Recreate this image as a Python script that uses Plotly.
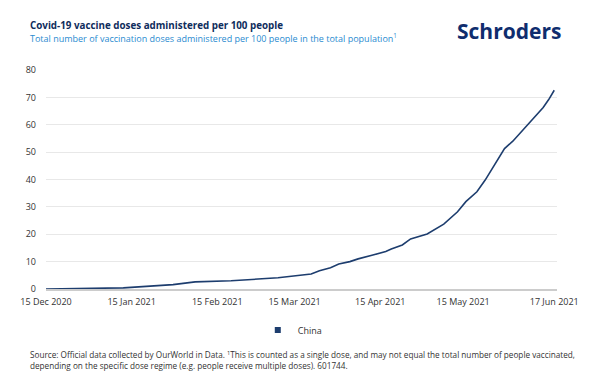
import plotly.graph_objects as go

dates = ["2020-12-15", "2021-01-02", "2021-01-12", "2021-01-30", "2021-02-07", "2021-02-20",
         "2021-03-09", "2021-03-21", "2021-03-24", "2021-03-28", "2021-03-31", "2021-04-04",
         "2021-04-07", "2021-04-12", "2021-04-17", "2021-04-19", "2021-04-23", "2021-04-26",
         "2021-05-02", "2021-05-08", "2021-05-13", "2021-05-16", "2021-05-20", "2021-05-23",
         "2021-05-26", "2021-05-30", "2021-06-02", "2021-06-05", "2021-06-07", "2021-06-10",
         "2021-06-13", "2021-06-15", "2021-06-17"]
china = [0.0, 0.1, 0.4, 1.6, 2.6, 3.0,
         4.1, 5.5, 6.7, 7.8, 9.1, 10.0,
         11.0, 12.3, 13.7, 14.6, 16.1, 18.3,
         20.1, 23.7, 28.2, 31.9, 35.5, 39.8,
         44.6, 51.3, 54.0, 57.4, 59.9, 62.9,
         66.3, 69.2, 72.6]

tick_dates = ["2020-12-15", "2021-01-15", "2021-02-15", "2021-03-15", "2021-04-15", "2021-05-15", "2021-06-17"]
tick_labels = ["15 Dec 2020", "15 Jan 2021", "15 Feb 2021", "15 Mar 2021", "15 Apr 2021", "15 May 2021", "17 Jun 2021"]
y_ticks = [0, 10, 20, 30, 40, 50, 60, 70, 80]

NAVY = "#1d3d6e"
FONT = "Open Sans"

# page has an 8px body margin: work in page pixels, size the figure to fit
OFF = 8
PAGE_W, PAGE_H = 591, 376
PL, PR, PT, PB = 38, 565, 70, 289   # plot area in page pixels
W, H = PAGE_W - OFF, PAGE_H - OFF
L, R, T, B = PL - OFF, PAGE_W - PR, PT - OFF, PAGE_H - PB
PW, PH = PR - PL, PB - PT

def px(x):
    return (x - PL) / PW

def py(y):
    return (PB - y) / PH

fig = go.Figure()
fig.add_trace(go.Scatter(x=dates, y=china, mode="lines", name="China",
                         line=dict(color=NAVY, width=1.6), showlegend=False))
fig.add_trace(go.Scatter(x=[None], y=[None], mode="markers", name="China",
                         marker=dict(symbol="square", size=6, color=NAVY)))

fig.update_layout(
    width=W, height=H,
    margin=dict(l=L, r=R, t=T, b=B),
    paper_bgcolor="white", plot_bgcolor="white",
    font=dict(family=FONT, color="#333333", size=9),
    xaxis=dict(type="date", range=["2020-12-15", "2021-06-18"],
               tickvals=tick_dates, ticktext=tick_labels,
               showgrid=False, showline=True, linecolor="#cccccc", linewidth=2,
               ticks="", ticklabelstandoff=3,
               tickfont=dict(size=9, color="#333333"), zeroline=False),
    yaxis=dict(range=[0, 80], tickvals=y_ticks, showgrid=True, gridcolor="#e8e8e8",
               gridwidth=1, zeroline=False, ticks="", ticklabelstandoff=9,
               tickfont=dict(size=9, color="#333333")),
    legend=dict(orientation="h", x=px(292), xanchor="center", y=py(330), yanchor="middle",
                font=dict(size=9, color="#333333"), itemwidth=30),
    annotations=[
        dict(text="<b>Covid-19 vaccine doses administered per 100 people</b>",
             xref="paper", yref="paper", x=px(19), y=py(25), xanchor="left", yanchor="middle",
             showarrow=False, font=dict(size=9.8, color="#0f2d5c", family=FONT)),
        dict(text="Total number of vaccination doses administered per 100 people in the total population<sup>1</sup>",
             xref="paper", yref="paper", x=px(19), y=py(38), xanchor="left", yanchor="middle",
             showarrow=False, font=dict(size=9, color="#2a8bd0", family=FONT)),
        dict(text="<b>Schroders</b>",
             xref="paper", yref="paper", x=px(571), y=py(31), xanchor="right", yanchor="middle",
             showarrow=False, font=dict(size=21, color="#0f2d6e", family=FONT)),
        dict(text="Source: Official data collected by OurWorld in Data. <sup>1</sup>This is counted as a single dose, and may not equal the total number of people vaccinated,<br>depending on the specific dose regime (e.g. people receive multiple doses). 601744.",
             xref="paper", yref="paper", x=px(19), y=py(360), xanchor="left", yanchor="middle",
             align="left", showarrow=False, font=dict(size=8.2, color="#333333", family=FONT)),
    ],
)

fig.write_html("out.html")
